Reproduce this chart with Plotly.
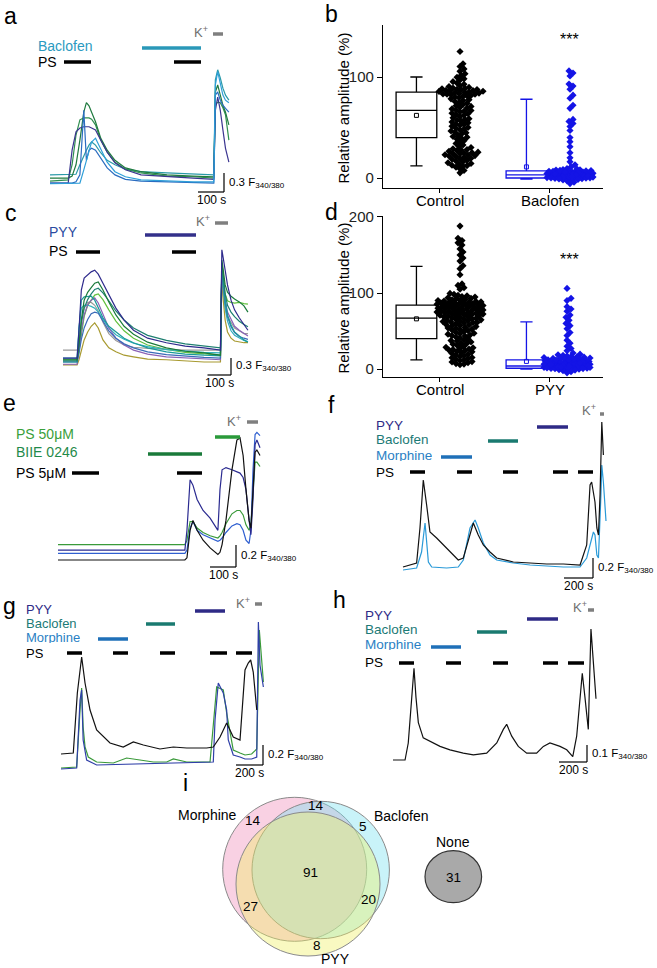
import plotly.graph_objects as go

FONT = "Liberation Sans, Arial, Helvetica, sans-serif"
W, H = 657, 968

# ================= DATA =================
# --- panel a (time s, dF ratio) ---
a_t = [0, 70, 85, 100, 115, 130, 140, 150, 160, 175, 195, 220, 250, 290, 350, 450, 550, 630, 636, 645, 655, 665, 675, 688]
a_navy = [0.03, 0.03, 0.55, 0.84, 0.90, 0.92, 0.92, 0.92, 0.90, 0.87, 0.71, 0.52, 0.35, 0.24, 0.16, 0.13, 0.11, 0.09, 1.18, 1.39, 1.18, 0.87, 0.58, 0.36]
a_dgreen = [0.11, 0.11, 0.14, 0.32, 0.71, 1.15, 1.30, 1.25, 1.15, 1.00, 0.74, 0.55, 0.39, 0.27, 0.21, 0.16, 0.14, 0.13, 1.47, 1.58, 1.42, 1.26, 1.15, 0.95]
a_green = [0.06, 0.08, 0.32, 0.79, 1.03, 1.06, 1.06, 1.06, 1.04, 0.95, 0.71, 0.52, 0.36, 0.25, 0.19, 0.14, 0.13, 0.11, 1.26, 1.31, 1.30, 1.22, 1.11, 0.71]
a_teal = [0.16, 0.16, 0.16, 0.17, 0.32, 0.47, 0.55, 0.63, 0.68, 0.63, 0.51, 0.39, 0.32, 0.25, 0.21, 0.19, 0.17, 0.16, 1.66, 1.82, 1.69, 1.53, 1.42, 1.34]
a_lblue = [0.02, 0.02, 0.02, 0.02, 0.03, 0.24, 0.39, 0.55, 0.68, 0.74, 0.58, 0.36, 0.21, 0.13, 0.08, 0.06, 0.05, 0.05, 1.58, 1.79, 1.58, 1.42, 1.34, 1.30]
a_blue = [0.03, 0.03, 0.03, 0.05, 0.16, 1.18, 0.39, 0.55, 0.58, 0.55, 0.43, 0.27, 0.16, 0.09, 0.06, 0.05, 0.05, 0.03, 1.42, 1.47, 1.34, 1.26, 1.21, 1.15]

# --- panel c ---
c_t = [0, 60, 68, 78, 90, 105, 120, 135, 150, 170, 195, 225, 260, 300, 360, 440, 520, 600, 670, 676, 682, 690, 700, 715, 730, 750, 770, 787]
c_navy = [0.07, 0.07, 0.56, 1.27, 1.48, 1.53, 1.59, 1.62, 1.55, 1.39, 1.18, 0.95, 0.74, 0.56, 0.42, 0.34, 0.28, 0.25, 0.21, 1.98, 1.83, 1.62, 1.36, 1.09, 0.92, 0.78, 0.65, 0.56]
c_dgreen = [0.04, 0.04, 0.30, 0.74, 1.09, 1.23, 1.31, 1.39, 1.41, 1.27, 1.06, 0.83, 0.63, 0.49, 0.35, 0.25, 0.19, 0.16, 0.12, 1.80, 1.62, 1.36, 1.23, 1.16, 1.11, 1.06, 0.99, 0.88]
c_teal = [0.00, 0.00, 0.56, 1.09, 1.15, 1.16, 1.16, 1.09, 0.95, 0.78, 0.63, 0.53, 0.42, 0.34, 0.25, 0.18, 0.14, 0.12, 0.11, 1.71, 1.45, 1.09, 0.83, 0.65, 0.53, 0.46, 0.39, 0.35]
c_purple = [-0.04, -0.04, 0.21, 0.56, 0.83, 1.01, 1.09, 1.13, 1.04, 0.83, 0.60, 0.42, 0.30, 0.21, 0.14, 0.09, 0.07, 0.05, 0.04, 1.62, 1.36, 1.09, 0.88, 0.74, 0.63, 0.56, 0.51, 0.46]
c_olive = [-0.05, -0.05, 0.04, 0.21, 0.39, 0.53, 0.63, 0.69, 0.60, 0.39, 0.25, 0.18, 0.12, 0.09, 0.05, 0.04, 0.02, 0.00, 0.00, 1.53, 1.09, 0.74, 0.53, 0.42, 0.37, 0.35, 0.34, 0.34]
c_gray = [0.21, 0.21, 0.30, 0.70, 0.95, 1.05, 1.05, 1.00, 0.90, 0.70, 0.50, 0.38, 0.30, 0.26, 0.24, 0.22, 0.21, 0.21, 0.21, 1.40, 1.20, 0.95, 0.80, 0.70, 0.60, 0.55, 0.50, 0.50]
c_lgreen = [0.04, 0.04, 0.20, 0.50, 0.80, 1.00, 1.10, 1.18, 1.20, 1.10, 0.92, 0.72, 0.55, 0.42, 0.30, 0.22, 0.17, 0.14, 0.12, 1.70, 1.45, 1.20, 1.08, 1.05, 1.04, 1.05, 1.03, 1.02]
c_blue = [0.00, 0.00, 0.15, 0.40, 0.60, 0.75, 0.85, 0.88, 0.86, 0.72, 0.55, 0.42, 0.32, 0.25, 0.18, 0.13, 0.10, 0.08, 0.07, 1.65, 1.40, 1.05, 0.80, 0.62, 0.52, 0.45, 0.42, 0.40]
c_cyan = [0.07, 0.07, 0.60, 0.95, 1.00, 1.00, 0.98, 0.95, 0.88, 0.75, 0.60, 0.48, 0.40, 0.33, 0.27, 0.22, 0.19, 0.17, 0.16, 1.60, 1.30, 0.95, 0.72, 0.55, 0.47, 0.42, 0.38, 0.36]
c_dteal = [0.02, 0.02, 0.30, 0.70, 0.95, 1.10, 1.20, 1.28, 1.30, 1.22, 1.08, 0.90, 0.74, 0.60, 0.47, 0.38, 0.32, 0.28, 0.25, 1.75, 1.50, 1.20, 1.00, 0.88, 0.80, 0.72, 0.66, 0.62]

# --- panel e ---
e_t = [0, 488, 496, 508, 519, 535, 558, 585, 615, 623, 631, 646, 669, 688, 700, 712, 723, 735, 742, 750, 758, 765, 777]
e_navy = [0.09, 0.09, 0.27, 0.73, 0.68, 0.55, 0.45, 0.38, 0.27, 0.64, 0.82, 0.84, 0.82, 0.80, 0.79, 0.75, 0.64, 0.36, 0.23, 0.55, 1.05, 1.09, 1.02]
e_black = [0.00, 0.00, 0.02, 0.27, 0.36, 0.27, 0.18, 0.11, 0.05, 0.07, 0.14, 0.36, 0.82, 1.09, 1.11, 0.95, 0.64, 0.36, 0.29, 0.59, 0.98, 1.00, 0.95]
e_green = [0.14, 0.14, 0.18, 0.35, 0.35, 0.29, 0.25, 0.22, 0.20, 0.22, 0.25, 0.33, 0.42, 0.45, 0.45, 0.41, 0.32, 0.27, 0.32, 0.64, 0.89, 0.89, 0.85]
e_blue = [0.06, 0.06, 0.09, 0.29, 0.35, 0.27, 0.23, 0.20, 0.17, 0.18, 0.20, 0.25, 0.31, 0.33, 0.32, 0.27, 0.18, 0.15, 0.27, 0.82, 1.14, 1.16, 1.13]

# --- panel f ---
f_black_t = [0, 94, 117, 140, 163, 186, 232, 301, 381, 416, 450, 485, 519, 554, 600, 646, 761, 876, 991, 1106, 1221, 1267, 1290, 1301, 1324, 1337, 1348, 1359, 1371, 1382]
f_black = [0.03, 0.07, 0.42, 0.90, 0.65, 0.38, 0.32, 0.22, 0.10, 0.12, 0.28, 0.47, 0.35, 0.25, 0.18, 0.12, 0.08, 0.07, 0.06, 0.06, 0.05, 0.25, 0.85, 0.88, 0.68, 0.42, 0.35, 0.75, 1.48, 1.15]
f_lblue_t = [0, 94, 128, 152, 175, 198, 301, 381, 416, 462, 497, 519, 554, 600, 646, 761, 876, 991, 1106, 1221, 1267, 1313, 1324, 1337, 1348, 1365, 1371, 1382, 1400]
f_lblue = [0.00, 0.02, 0.18, 0.47, 0.08, 0.03, 0.02, 0.03, 0.10, 0.42, 0.50, 0.42, 0.27, 0.15, 0.10, 0.07, 0.05, 0.04, 0.03, 0.03, 0.12, 0.38, 0.35, 0.15, 0.12, 0.75, 1.05, 0.88, 0.49]

# --- panel g ---
g_black_t = [0, 91, 121, 141, 153, 178, 215, 264, 363, 461, 536, 610, 733, 832, 931, 1079, 1128, 1178, 1227, 1276, 1326, 1363, 1387, 1405, 1424, 1450]
g_black = [0.15, 0.16, 0.76, 1.02, 1.12, 0.86, 0.59, 0.39, 0.26, 0.22, 0.27, 0.24, 0.20, 0.22, 0.21, 0.21, 0.22, 0.32, 0.46, 0.32, 0.29, 0.99, 1.06, 1.09, 0.97, 0.59]
g_green_t = [0, 116, 141, 153, 164, 178, 202, 264, 388, 486, 585, 684, 783, 832, 931, 1104, 1153, 1202, 1227, 1276, 1326, 1363, 1412, 1450, 1469, 1481, 1499]
g_green = [0.01, 0.02, 0.59, 0.81, 0.42, 0.22, 0.12, 0.07, 0.06, 0.11, 0.09, 0.07, 0.07, 0.10, 0.07, 0.07, 0.82, 0.79, 0.56, 0.19, 0.16, 0.14, 0.15, 0.20, 1.39, 1.19, 0.87]
g_blue_t = [0, 116, 141, 153, 164, 190, 264, 536, 1128, 1141, 1165, 1202, 1227, 1239, 1276, 1326, 1363, 1412, 1450, 1462, 1474, 1499]
g_blue = [0.00, 0.01, 0.69, 0.79, 0.29, 0.09, 0.04, 0.05, 0.07, 0.49, 0.86, 0.76, 0.59, 0.29, 0.14, 0.12, 0.10, 0.10, 0.12, 1.47, 1.04, 0.82]

# --- panel h ---
h_t = [0, 86, 109, 134, 150, 164, 181, 216, 264, 336, 407, 502, 574, 669, 741, 788, 812, 848, 895, 955, 1026, 1074, 1121, 1193, 1241, 1284, 1312, 1352, 1371, 1395, 1414, 1431, 1450]
h_r = [0.00, 0.00, 0.10, 0.37, 0.54, 0.37, 0.22, 0.13, 0.11, 0.08, 0.06, 0.04, 0.03, 0.04, 0.10, 0.18, 0.21, 0.14, 0.08, 0.04, 0.04, 0.08, 0.10, 0.08, 0.06, 0.02, 0.14, 0.51, 0.37, 0.18, 0.77, 0.59, 0.36]

# --- panel b (relative amplitude %) ---
b_categories = ["Control", "Baclofen"]
b_box_q1 = [40, 0]
b_box_median = [67, 3]
b_box_q3 = [85, 7]
b_box_low = [12, -1]
b_box_high = [100, 78]
b_box_mean = [62, 11]
b_control = [125.3, 113.1, 110.4, 108.0, 105.6, 103.2, 101.5, 99.8, 98.2, 97.0, 95.4, 94.1, 92.8, 91.3, 90.6,
             89.7, 89.0, 88.4, 87.9, 87.2, 86.8, 86.1, 85.7, 85.2, 84.8, 84.1, 83.6, 83.0, 82.4, 81.7, 81.0,
             80.2, 79.5, 78.4, 77.6, 76.9, 75.8, 74.6, 73.9, 72.8, 71.5, 70.9, 70.1, 69.2, 68.4, 67.3, 66.1,
             65.5, 64.2, 63.0, 62.1, 60.8, 59.6, 58.7, 57.4, 56.3, 55.5, 54.6, 53.2, 52.4, 51.3, 50.1, 49.2,
             47.8, 46.5, 45.3, 44.0, 42.6, 41.1, 39.9, 38.5, 37.0, 35.6, 34.2, 32.7, 31.5, 30.2, 29.0, 28.1,
             27.3, 26.4, 25.6, 24.8, 23.9, 23.0, 22.2, 21.3, 20.5, 19.6, 18.7, 17.4, 16.2, 15.1, 13.8, 12.6,
             11.9, 10.7, 9.2, 7.5, 5.1, 88.9, 86.5, 84.4, 82.9, 81.3, 87.6, 85.9, 83.3, 27.8, 24.2, 21.8,
             19.1, 16.8, 14.4, 12.2, 25.1, 22.7, 66.8, 63.6, 58.1, 52.9, 48.5, 44.7, 40.4]
b_baclofen = [106, 104, 101, 93, 91, 88, 82, 79, 72, 69, 58, 56, 54, 51, 47, 40, 36, 31, 25, 20, 16, 13, 11,
              9.4, 8.8, 8.3, 7.9, 7.4, 6.9, 6.6, 6.1, 5.8, 5.3, 5.0, 4.6, 4.2, 3.9, 3.5, 3.2, 2.8, 2.5, 2.2,
              1.9, 1.6, 1.3, 1.0, 0.7, 0.4, 0.1, -0.3, -0.7, -1.2, -1.9, -2.8, -4.1, -5.5, 8.1, 7.0, 6.3,
              5.5, 4.8, 4.0, 3.3, 2.6, 1.8, 1.1, 0.5, -0.1, -0.9, 7.6, 5.9, 4.4, 3.0, 1.5, 0.2, -1.5, 6.7,
              3.7, 2.0, 0.9]

# --- panel d ---
d_categories = ["Control", "PYY"]
d_box_q1 = [40, 1]
d_box_median = [67, 4]
d_box_q3 = [84, 12]
d_box_low = [12, 0]
d_box_high = [135, 62]
d_box_mean = [66, 10]
d_control = [188, 172, 169, 166, 163, 158, 154, 150, 146, 142, 136, 132, 124, 112, 110, 107, 105,
             99.5, 98.2, 97.1, 96.4, 95.3, 94.6, 93.8, 93.0, 92.4, 91.7, 91.1, 90.5, 90.0,
             89.4, 88.7, 88.1, 87.5, 86.9, 86.2, 85.6, 85.0, 84.3, 83.7, 83.1, 82.6, 81.9, 81.2, 80.6, 80.1,
             88.3, 86.7, 84.9, 83.4, 81.6, 87.2, 85.3, 82.2,
             79.4, 78.8, 78.1, 77.3, 76.6, 75.9, 75.2, 74.4, 73.7, 73.0, 72.3, 71.5, 70.8, 70.2, 79.0, 77.7,
             76.1, 74.9, 73.3, 71.9, 70.5, 78.3, 75.6, 72.7,
             69.6, 68.9, 68.1, 67.4, 66.6, 65.8, 65.1, 64.3, 63.5, 62.8, 62.0, 61.3, 60.5, 68.5, 66.2, 64.7,
             62.4, 60.9,
             59.7, 58.8, 57.9, 56.9, 55.8, 54.7, 53.6, 52.5, 51.4, 50.3, 57.2, 54.1, 51.9,
             49.5, 48.3, 47.1, 45.8, 44.6, 43.3, 42.0, 40.8, 46.4, 43.9,
             39.6, 38.2, 36.9, 35.5, 34.0, 32.7, 31.3, 37.4, 33.8,
             29.8, 28.5, 27.1, 25.8, 24.4, 23.1, 21.7, 20.5, 28.0, 26.3, 24.9, 22.6,
             19.3, 18.0, 16.6, 15.2, 13.9, 12.5, 11.2, 9.8, 8.4, 7.1, 5.6, 17.4, 14.8, 12.0, 9.2, 6.5]
d_pyy = [106, 93, 90, 82, 79, 76, 71, 68, 64, 60, 57, 53, 48, 44, 38, 34, 30, 27, 24, 21,
         19.5, 18.7, 17.9, 17.2, 16.4, 15.8, 15.1, 14.5, 13.8, 13.2, 12.6, 12.1, 11.5, 11.0, 10.4, 9.9,
         9.4, 8.9, 8.4, 7.9, 7.5, 7.0, 6.6, 6.2, 5.8, 5.4, 5.0, 4.6, 4.3, 3.9, 3.6, 3.2, 2.9, 2.5, 2.2,
         1.8, 1.5, 1.1, 0.8, 0.4, 0.1, -0.3, -0.8, -1.4, -2.2, -3.5, -5.0, 16.0, 14.0, 12.3, 10.8, 9.6,
         8.2, 7.3, 6.4, 5.6, 4.8, 4.0, 3.4, 2.7, 2.0, 1.3, 0.6, 13.0, 11.7, 9.1, 7.7, 6.0, 4.4, 2.4]

# --- panel i (Venn counts) ---
venn_sets = ["Morphine", "Baclofen", "PYY"]
venn_counts = {"M": 14, "MB": 14, "B": 5, "MBP": 91, "MP": 27, "BP": 20, "P": 8}
none_count = 31

# ================= HELPERS =================
def PX(x):
    return x / W


def PY(y):
    return 1 - y / H


shapes = []
annots = []
layout_axes = {}
fig = go.Figure()


def seg(x0, y0, x1, y1, color="black", width=1.2):
    shapes.append(dict(type="line", xref="paper", yref="paper", x0=PX(x0), y0=PY(y0),
                       x1=PX(x1), y1=PY(y1), line=dict(color=color, width=width)))


def txt(x, y, s, color="black", size=14, xanchor="left", yanchor="middle", angle=0, boxh=None):
    a = dict(x=PX(x), y=PY(y), xref="paper", yref="paper", text=s, showarrow=False,
             font=dict(color=color, size=size, family=FONT), xanchor=xanchor,
             yanchor=yanchor, textangle=angle, borderpad=0)
    if boxh:
        a["height"] = boxh
    annots.append(a)


class Panel:
    def __init__(self, idx, x0px, s, ybase, k, box):
        self.idx, self.x0px, self.s, self.ybase, self.k = idx, x0px, s, ybase, k
        xL, xR, yT, yB = box
        layout_axes["xaxis%d" % idx] = dict(domain=[PX(xL), PX(xR)],
                                            range=[(xL - x0px) / s, (xR - x0px) / s],
                                            visible=False, anchor="y%d" % idx, fixedrange=True)
        layout_axes["yaxis%d" % idx] = dict(domain=[PY(yB), PY(yT)],
                                            range=[(ybase - yB) / k, (ybase - yT) / k],
                                            visible=False, anchor="x%d" % idx, fixedrange=True)

    def add(self, t, r, color, width=1.2):
        fig.add_trace(go.Scatter(x=t, y=r, mode="lines", line=dict(color=color, width=width),
                                 xaxis="x%d" % self.idx, yaxis="y%d" % self.idx,
                                 showlegend=False, hoverinfo="skip"))

    def scalebar(self, cx, cy, dt, dr, tlabel, rlabel):
        seg(cx - dt * self.s, cy, cx, cy)
        seg(cx, cy, cx, cy - dr * self.k)
        txt(cx + 4, cy - dr * self.k / 2, rlabel, size=11.5)
        txt(cx - dt * self.s / 2, cy + 8, tlabel, size=12, xanchor="center")


def bar(x0, x1, y, color="black", width=3.5):
    seg(x0, y, x1, y, color, width)


def kplus(x, y, bx0, bx1, by):
    txt(x, y, "K<sup>+</sup>", color="#6f6f6f", size=13, xanchor="center")
    bar(bx0, bx1, by, "#7f7f7f")


def drug_labels(x, ys, size):
    names = [("PYY", NAVY), ("Baclofen", TEALB), ("Morphine", MORPH), ("PS", "black")]
    for (name, col), y in zip(names, ys):
        txt(x, y, name, color=col, size=size, boxh=12)


SUB = "F<sub>340/380</sub>"

# colours
NAVY = "#2e2a86"
TEALB = "#1b7a76"
MORPH = "#2a7fc4"

# ================= PANEL a =================
pa = Panel(3, 50, 0.26, 185, 63.3, (46, 234, 58, 192))
pa.add(a_t, a_teal, "#2a9aa8")
pa.add(a_t, a_green, "#2f8f4f")
pa.add(a_t, a_dgreen, "#1f7a3f")
pa.add(a_t, a_navy, "#3b3590")
pa.add(a_t, a_blue, "#2a6cc0")
pa.add(a_t, a_lblue, "#2f9fd8")
pa.scalebar(224, 192, 100, 0.3, "100 s", "0.3 " + SUB)
txt(10, 16, "a", size=23, xanchor="center")
txt(37, 46, "Baclofen", color="#2a9ac0")
txt(37, 62, "PS")
bar(64, 91, 62)
bar(174, 201, 62)
bar(142, 201, 48, "#2a98b8")
kplus(201, 32, 213, 223, 34)

# ================= PANEL c =================
pc = Panel(4, 63, 0.235, 362, 56.7, (58, 254, 238, 378))
pc.add(c_t, c_gray, "#9a9a9a")
pc.add(c_t, c_olive, "#a89a30")
pc.add(c_t, c_lgreen, "#62c03e")
pc.add(c_t, c_cyan, "#2fb0bc")
pc.add(c_t, c_purple, "#8a62b6")
pc.add(c_t, c_blue, "#3a6ab8")
pc.add(c_t, c_teal, "#1a9a9a")
pc.add(c_t, c_dteal, "#1e7f70")
pc.add(c_t, c_dgreen, "#1a7a3a")
pc.add(c_t, c_navy, "#2e2a8c")
pc.scalebar(231, 375, 100, 0.3, "100 s", "0.3 " + SUB)
txt(11, 213, "c", size=23, xanchor="center")
txt(48, 232, "PYY", color="#2a4aa0")
txt(48, 251, "PS")
bar(76, 100, 252)
bar(172, 196, 252)
bar(145, 196, 235, "#33308a")
kplus(203, 221, 215, 228, 223)

# ================= PANEL e =================
pe = Panel(5, 58, 0.26, 560, 110, (54, 264, 425, 570))
pe.add(e_t, e_green, "#3a9a3a")
pe.add(e_t, e_blue, "#2f5fd0")
pe.add(e_t, e_navy, "#2a2a90")
pe.add(e_t, e_black, "#111111")
pe.scalebar(236, 567, 100, 0.2, "100 s", "0.2 " + SUB)
txt(9, 403, "e", size=23, xanchor="center")
txt(15, 434, "PS 50\u03bcM", color="#3aa03a")
txt(15, 452, "BIIE 0246", color="#1f8a4a")
txt(15, 473, "PS 5\u03bcM")
bar(72, 99, 473)
bar(177, 202, 473)
bar(148, 202, 454, "#1a7a3a")
bar(215, 240, 437, "#2a9a3a")
kplus(234, 421, 247, 258, 422)

# ================= PANEL f =================
pf = Panel(6, 403, 0.145, 570, 100, (398, 612, 412, 580))
pf.add(f_lblue_t, f_lblue, "#2a9ad8")
pf.add(f_black_t, f_black, "#111111")
pf.scalebar(593, 578, 200, 0.2, "200 s", "0.2 " + SUB)
txt(331, 405, "f", size=23, xanchor="center")
drug_labels(375, [425, 438.5, 455, 472], 13.5)
bar(441, 472, 457, "#1f70b8")
bar(488, 518, 441, "#1a7a70")
bar(537, 568, 427, NAVY)
for x0, x1 in [(410, 425), (457, 472), (503, 518), (553, 568), (578, 593)]:
    bar(x0, x1, 472)
kplus(589, 410, 600, 604, 414)

# ================= PANEL g =================
pg = Panel(7, 61, 0.135, 769, 100, (56, 268, 612, 780))
pg.add(g_green_t, g_green, "#3a9a3a")
pg.add(g_blue_t, g_blue, "#2f3fa8")
pg.add(g_black_t, g_black, "#111111")
pg.scalebar(263, 765, 200, 0.2, "200 s", "0.2 " + SUB)
txt(9, 606, "g", size=23, xanchor="center")
drug_labels(25, [609, 622.5, 637, 653], 13)
bar(98, 128, 639, "#1f70b8")
bar(146, 175, 624, "#1a7a70")
bar(195, 225, 611, NAVY)
for x0, x1 in [(67, 82), (113, 128), (160, 175), (210, 227), (236, 252)]:
    bar(x0, x1, 653)
kplus(243, 603, 255, 262, 604)

# ================= PANEL h =================
ph = Panel(8, 393, 0.14, 760, 170, (388, 602, 618, 768))
ph.add(h_t, h_r, "#111111")
ph.scalebar(587, 762, 200, 0.1, "200 s", "0.1 " + SUB)
txt(339, 600, "h", size=23, xanchor="center")
drug_labels(364, [615, 629, 644, 662], 13.5)
bar(431, 461, 647, "#1f70b8")
bar(477, 507, 632, "#1a7a70")
bar(527, 558, 619, NAVY)
for x0, x1 in [(399, 414), (446, 461), (493, 508), (543, 558), (568, 584)]:
    bar(x0, x1, 663)
kplus(580, 607, 588, 594, 610)


# ================= PANELS b / d (box + swarm) =================
def swarm(vals, ppu_y, ppx, center, maxw=23.0, dmin=4.0):
    placed = []
    xs = [0.0] * len(vals)
    cands = [0.0]
    k = 1
    while k <= maxw:
        cands += [float(k), float(-k)]
        k += 1
    order = sorted(range(len(vals)), key=lambda i: vals[i])
    for i in order:
        y = vals[i] * ppu_y
        near = [(px_, py_) for (px_, py_) in placed if abs(py_ - y) < dmin]
        best, bestd = None, -1
        for c in cands:
            md = min([((c - a) ** 2 + (y - b) ** 2) ** 0.5 for a, b in near] or [99])
            if md >= dmin:
                best = c
                break
            if md > bestd:
                bestd, best = md, c
        placed.append((best, y))
        xs[i] = center + best / ppx
    return xs


BLUE = "#1414e6"


def stat_panel(ax, cats, q1, med, q3, lo, hi, mean, groups, ybox, xbox, yrange, ppu, tickvals,
               labely, centers, star_y):
    xa = "x" if ax == 1 else "x%d" % ax
    ya = "y" if ax == 1 else "y%d" % ax
    colors = ["black", BLUE]
    box_x = [-0.214, 0.786]
    for i in range(2):
        fig.add_trace(go.Box(x=[box_x[i]], q1=[q1[i]], median=[med[i]], q3=[q3[i]],
                             lowerfence=[lo[i]], upperfence=[hi[i]], width=0.37,
                             fillcolor="rgba(255,255,255,0)", line=dict(color=colors[i], width=1.3),
                             whiskerwidth=0.3, boxpoints=False, xaxis=xa, yaxis=ya,
                             showlegend=False, hoverinfo="skip"))
        fig.add_trace(go.Scatter(x=[box_x[i]], y=[mean[i]], mode="markers",
                                 marker=dict(symbol="square-open", size=4, color=colors[i],
                                             line=dict(width=1, color=colors[i])),
                                 xaxis=xa, yaxis=ya, showlegend=False, hoverinfo="skip"))
        xs = swarm(groups[i], ppu, 110.0, i + centers[i])
        fig.add_trace(go.Scatter(x=xs, y=groups[i], mode="markers",
                                 marker=dict(symbol="diamond", size=5.5, color=colors[i],
                                             line=dict(width=0)),
                                 xaxis=xa, yaxis=ya, showlegend=False, hoverinfo="skip"))
    key = "" if ax == 1 else str(ax)
    yT, yB = ybox
    layout_axes["xaxis" + key] = dict(domain=[PX(xbox[0]), PX(xbox[1])], range=[-0.518, 1.482],
                                      showline=True, linecolor="black", linewidth=1.3,
                                      showgrid=False, zeroline=False, tickvals=[0, 1],
                                      showticklabels=False, ticks="outside", ticklen=4,
                                      tickcolor="black", anchor=ya, fixedrange=True)
    layout_axes["yaxis" + key] = dict(domain=[PY(yB), PY(yT)], range=yrange, showline=True,
                                      linecolor="black", linewidth=1.3, showgrid=False,
                                      zeroline=False, tickvals=tickvals, ticks="outside",
                                      ticklen=5, tickcolor="black",
                                      tickfont=dict(size=15, family=FONT, color="#222"),
                                      anchor=xa, fixedrange=True)
    txt(440, labely, cats[0], size=15, xanchor="center")
    txt(550, labely, cats[1], size=15, xanchor="center")
    txt(343, (yT + yB) / 2 + 2, "Relative amplitude (%)", size=15, xanchor="center", angle=-90)
    txt(569, star_y, "***", size=16, xanchor="center")


stat_panel(1, b_categories, b_box_q1, b_box_median, b_box_q3, b_box_low, b_box_high, b_box_mean,
           [b_control, b_baclofen], (25, 188), (383, 603), [-9.9, 151.5], 1.01, [0, 100], 201,
           [0.182, 0.182], 40)
stat_panel(2, d_categories, d_box_q1, d_box_median, d_box_q3, d_box_low, d_box_high, d_box_mean,
           [d_control, d_pyy], (216, 377), (383, 603), [-10.5, 201.3], 0.76, [0, 100, 200], 389,
           [0.182, 0.155], 259)
txt(331, 14, "b", size=23, xanchor="center")
txt(331, 212, "d", size=23, xanchor="center")


# ================= PANEL i (Venn) =================
def circ(cx, cy, rx, ry, fill, line="#8a8a8a", lw=1.0):
    shapes.append(dict(type="circle", xref="paper", yref="paper", x0=PX(cx - rx), x1=PX(cx + rx),
                       y0=PY(cy + ry), y1=PY(cy - ry), fillcolor=fill,
                       line=dict(color=line, width=lw), layer="above"))


circ(294.7, 869.3, 72, 72, "rgba(240,140,185,0.4)")
circ(320.7, 870.0, 68.7, 68.7, "rgba(120,225,240,0.4)")
circ(308.0, 884.0, 72, 72, "rgba(240,240,100,0.4)")
circ(453.3, 876.7, 28.3, 26, "#a9a9a9", line="#333333", lw=1.2)
txt(185, 783, "i", size=23, xanchor="center")
txt(207, 815, venn_sets[0], size=14, xanchor="center")
txt(401, 816, venn_sets[1], size=14, xanchor="center")
txt(335, 959, venn_sets[2], size=14, xanchor="center")
txt(453, 842, "None", size=14, xanchor="center")
txt(453.3, 877, str(none_count), size=13.5, xanchor="center")
for key, (x, y) in {"M": (253.3, 820), "MB": (315.7, 805), "B": (363.3, 826), "MBP": (310, 872),
                    "MP": (250, 906), "BP": (368.3, 899.3), "P": (317.3, 945)}.items():
    txt(x, y, str(venn_counts[key]), size=13.5, xanchor="center")

fig.update_layout(width=W, height=H, margin=dict(l=0, r=0, t=0, b=0), paper_bgcolor="white",
                  plot_bgcolor="rgba(0,0,0,0)", showlegend=False, shapes=shapes, annotations=annots,
                  font=dict(family=FONT, color="black"), template="none", **layout_axes)
fig.write_html("out.html", config={"displayModeBar": False},
               post_script="document.documentElement.style.margin='0';"
                           "document.body.style.margin='0';document.body.style.padding='0';"
                           "document.documentElement.style.overflow='hidden';"
                           "var gd=document.getElementById('{plot_id}');"
                           "gd.style.position='absolute';gd.style.top='0px';gd.style.left='0px';")
